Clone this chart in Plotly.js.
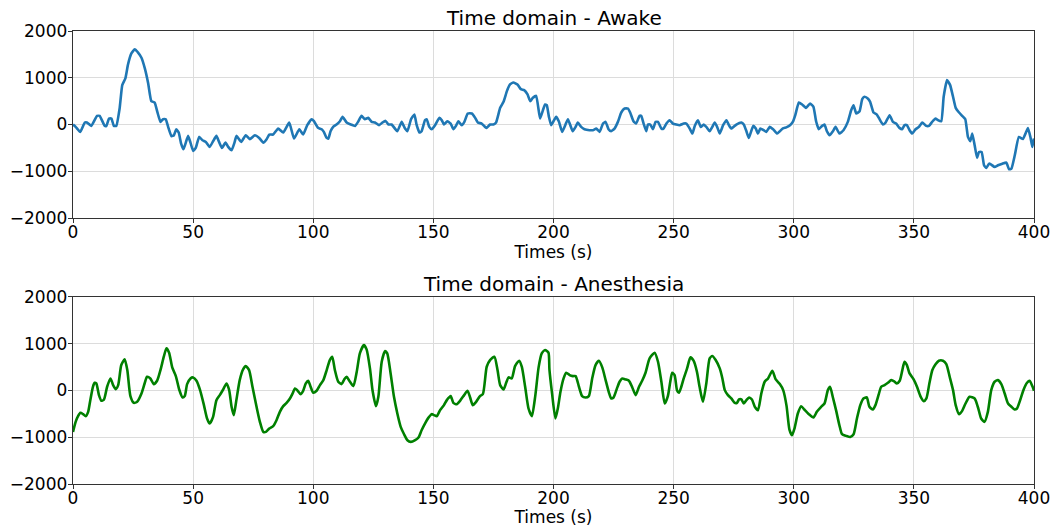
<!DOCTYPE html>
<html>
<head>
<meta charset="utf-8">
<script src="https://cdn.plot.ly/plotly-3.0.1.min.js"></script>
<style>
  html, body { margin: 0; padding: 0; background: #fff; }
  #chart { width: 1052px; height: 527px; }
</style>
</head>
<body>
<div id="chart"></div>
<script>
// ---- Data ----
const awakeTimes = [0,1.1,3,4.9,5.8,7.6,10,11.1,13.2,13.9,15,16,17,18,19.4,20.5,21.8,22.9,24.3,25.7,27,28.5,29.9,31.3,32.6,34,35.1,36.4,37.5,38.6,39.6,41,42,43,44,45,46,47.9,48.9,50,51.1,52.5,53.9,55.3,56.9,58.3,59.7,60.8,62,63.5,64.6,66,67.3,68,70,71.9,73.6,75.7,77.5,79.2,80.6,81.7,83.3,85.4,87.5,90,92,94.2,95.8,97.5,99.3,100.3,102,103.5,104.4,105.6,106.3,107.2,108.3,109.7,111.1,112.2,113.9,115.6,117.4,118.8,120.1,121.5,122.9,124.3,125.7,127.4,128.8,130.1,131.3,132.6,134,135,136.8,138.2,139.2,140.7,142.1,143,144.2,145.1,146.5,147.2,148.3,149.3,150.7,152.5,153.5,154.4,155.8,157.2,158.3,159.4,160.4,161.8,162.9,164.3,166,167.4,168.5,170.1,171.5,172.2,173.6,175,176.1,177.8,179.2,180.6,181.9,183.3,185,186.4,187.8,189.2,190.3,191.4,192.8,194.4,195.6,196.5,197.2,198.1,199,200,201.1,202.2,203.6,205,206,206.9,208,209.2,210.1,211.5,212.9,215,216.4,217.8,219.2,220.6,221.7,222.9,224,225.4,226.8,228.2,229.6,231,231.9,233.3,234.4,235.8,236.5,237.5,238.6,239.3,240.3,241.4,242.5,243.5,244.9,245.8,247,248.3,249.7,251.1,252.5,254.2,255.3,256.7,257.8,258.8,260.1,261.3,262.5,263.6,265,266.1,267.1,268.1,269.2,270.6,272,272.9,274,276.1,278.2,279.2,280.3,281.3,283.1,284.2,285.1,286.1,287.5,288.6,290,291.4,293.1,294.2,295.5,296.9,298.3,299.6,300.7,302.1,303.5,305.1,306.8,308.2,309.3,310.4,311.8,312.8,313.8,314.9,316.3,317.4,319,320.7,322.5,323.9,324.9,326,327.4,328.5,329.4,330.8,331.8,333.2,334.6,335.7,337.1,338.2,339.9,341.3,342.6,344,345.1,346.1,347.1,348.2,349.3,350.7,352.1,353.5,355.1,356.3,357.6,359,360,361.4,362.4,363.8,365.1,366.3,367.4,368.8,370.1,371.4,372.5,373.5,374.3,375.3,376.3,377.1,378.2,379.2,380.1,381.3,382.2,383.6,385,386.8,388.5,389.6,390.6,392,393.7,395.4,396.4,397.5,398.6,399.3,400];
const awakeValues = [0,-50,-157,43,43,-29,186,186,-29,-29,128,128,-29,-29,343,843,986,1286,1521,1607,1543,1428,1200,878,500,471,271,57,114,114,-50,-250,-228,-100,-171,-407,-528,-243,-386,-564,-500,-264,-336,-371,-478,-357,-243,-371,-500,-386,-478,-550,-371,-243,-371,-228,-314,-228,-286,-386,-314,-214,-214,-86,-171,43,-300,-100,-214,-14,114,71,-71,-100,-157,-286,-300,-143,-50,0,71,164,43,0,-29,71,186,114,143,57,43,-14,43,78,0,0,-86,-143,57,-86,-143,114,214,0,-171,-143,93,114,-50,-100,-14,143,93,0,71,21,-100,-29,71,-14,57,236,236,143,43,21,-50,-71,0,0,43,357,486,714,857,900,857,757,736,643,500,571,614,129,307,429,414,164,-14,71,164,71,-157,0,114,0,-143,-50,43,-50,-100,-121,-121,-86,-157,21,57,-100,-143,-86,57,257,343,343,257,71,21,186,186,21,-143,0,0,-100,57,57,-86,-86,21,93,21,0,-14,21,21,-86,-193,-29,93,-50,0,-50,-143,-50,43,-50,-193,-14,93,0,-86,0,43,0,-143,-286,-29,-86,-193,-86,-121,-157,-50,-100,-193,-143,-80,-60,-20,57,214,471,429,357,450,379,71,-100,-29,0,-143,-228,-143,-50,-193,-121,57,307,414,236,286,543,593,557,486,257,214,114,0,43,200,57,21,-71,-100,-14,-14,-121,-193,-100,-50,43,-29,-29,57,129,93,71,593,950,843,593,357,257,186,114,-264,-357,-193,-443,-714,-586,-586,-871,-928,-836,-857,-907,-871,-836,-814,-957,-943,-657,-265,-310,-200,-73,-290,-480,-300];

const anesTimes = [0,1.1,2.1,3.1,4.2,5.3,6.3,7.2,8.3,9,9.7,10.8,11.8,12.9,14.2,15.6,16.7,17.8,18.8,20.1,21.5,22.6,23.9,25.3,26.7,28.5,29.9,30.8,32.2,33.6,35,36.4,37.8,38.9,40,41.3,42.8,44.2,45.6,46.5,47.5,48.9,50,51.4,52.8,54.4,55.8,56.9,58.3,59.7,61.1,62.5,63.9,65,66,66.9,68,69.4,70.8,71.9,73.3,74.7,76.4,77.8,79.2,80.3,81.7,83.3,84.7,86.1,87.5,88.9,90.3,91.4,92.4,93.3,94.7,95.8,96.9,97.9,98.9,100,101.4,102.8,104.2,105.6,106.9,107.9,109,110.4,111.8,112.9,113.9,115,116.7,118.1,119.4,121.1,122.2,123.6,124.7,126.1,127.1,128.5,129.9,130.8,132.2,133.6,135,136.4,137.8,139.2,140.6,142.4,143.8,145.1,146.5,147.9,149.3,150.3,151.4,152.8,154.4,155.6,157.2,158.3,159.7,161.1,162.8,164.2,165.3,166.4,167.8,169.4,170.6,172.2,173.6,175.4,176.7,177.8,179.2,180.3,181.3,182.6,184,185.7,186.8,188.2,189.6,191,192.4,193.8,195.1,196.5,197.9,198.3,199.4,200.8,201.8,202.9,204.2,205.3,206.7,208.1,209.2,210.6,211.9,213.3,214.7,216.1,217.5,218.9,220.3,221.7,223.1,224,225,226.4,227.5,228.6,230,231.4,232.8,234.2,235.6,236.9,238.3,240,242.1,243.5,244.9,246.3,247.6,248.6,249.4,250.4,251.4,252.2,253.2,254.2,255.6,257,258.3,259.7,260.8,262.2,263.6,265,266.1,267.5,269.2,270.3,271.3,272.6,274,275.4,276.4,277.2,278.2,279.2,280.3,281.4,282.6,283.8,285.1,286.5,287.9,289.3,291.1,292.5,294.2,295.6,297,298.2,299.3,300.3,301.7,303.1,304.4,306.3,308.2,309.6,311.4,312.8,314.2,315.1,316.3,317.6,319,320.1,321.8,323.5,324.9,326.3,327.7,329,330.4,331.5,332.9,334,335.4,336.4,337.8,339.2,340.6,342,342.9,344.1,345.2,346.1,347.1,348.2,349.9,351.3,352.7,354.1,355.2,356.5,357.7,359.1,360.4,362.1,363.5,364.9,366.3,367.4,368.8,370.1,371.5,373.2,375.3,376.7,378,379.4,380.8,382.2,383.6,385,386.4,387.8,389.2,390.6,391.9,392.9,394,395.7,397.1,398.2,399.3,400];
const anesValues = [-886,-671,-550,-478,-507,-550,-457,-207,79,164,150,-100,-221,-193,79,257,114,29,114,543,664,436,-121,-264,-243,-64,164,293,257,136,207,436,721,900,807,493,307,21,-150,-121,136,257,279,207,21,-293,-600,-707,-564,-207,-100,21,150,7,-350,-528,-207,221,450,521,436,79,-350,-671,-886,-886,-814,-764,-636,-457,-336,-264,-171,-64,43,7,-79,-7,150,207,79,-50,-7,114,221,436,650,721,436,186,136,236,293,207,93,400,793,971,878,471,-7,-336,-136,614,843,793,364,-136,-493,-778,-936,-1064,-1100,-1064,-1007,-850,-707,-586,-507,-528,-550,-421,-314,-207,-121,-264,-293,-221,-100,-7,-150,-314,-243,-121,-79,507,650,721,436,114,21,164,279,257,521,636,507,79,-386,-550,-121,493,793,864,807,450,-64,-600,-386,-29,257,379,329,307,307,79,-121,-150,-121,257,543,636,493,221,-50,-171,-150,43,186,257,236,207,64,-100,79,207,379,686,807,614,186,-279,-121,186,379,329,7,-50,79,257,471,707,636,400,79,-243,150,686,736,650,471,257,7,-100,-171,-264,-264,-193,-193,-279,-207,-150,-193,-350,-421,-64,186,257,421,236,136,7,-330,-836,-957,-814,-493,-336,-407,-507,-578,-457,-350,-279,7,79,-150,-421,-743,-936,-971,-993,-936,-600,-314,-171,-150,-350,-407,-314,-79,79,114,164,221,186,150,207,436,614,543,364,236,79,-121,-229,-171,164,436,564,636,636,564,293,7,-314,-507,-436,-279,-136,-171,-364,-600,-671,-457,7,186,221,136,-64,-279,-350,-407,-386,-243,21,164,207,93,-7];

const titles = ["Time domain - Awake", "Time domain - Anesthesia"];
const xTitle = "Times (s)";
const xTicks = [0, 50, 100, 150, 200, 250, 300, 350, 400];
const yTicks = [-2000, -1000, 0, 1000, 2000];

const FONT = "DejaVu Sans, sans-serif";

const traces = [
  { x: awakeTimes, y: awakeValues, type: "scatter", mode: "lines",
    line: { color: "#1f77b4", width: 2.6, shape: "spline", smoothing: 0.4 },
    xaxis: "x", yaxis: "y", hoverinfo: "skip" },
  { x: anesTimes, y: anesValues, type: "scatter", mode: "lines",
    line: { color: "#008000", width: 2.6, shape: "spline", smoothing: 0.6 },
    xaxis: "x2", yaxis: "y2", hoverinfo: "skip" }
];

function xAxis(anchor) {
  return {
    anchor: anchor, range: [0, 400], tickvals: xTicks, ticktext: xTicks.map(String),
    showgrid: true, gridcolor: "#dcdcdc", gridwidth: 1, zeroline: false,
    showline: true, linecolor: "#333", linewidth: 1.3, mirror: true,
    ticks: "outside", ticklen: 4, tickcolor: "#333", tickwidth: 1,
    ticklabelstandoff: -6,
    tickfont: { family: FONT, size: 17, color: "#000" },
    automargin: false,
    title: { text: xTitle, font: { family: FONT, size: 17, color: "#000" }, standoff: 0 }
  };
}
function yAxis(anchor, domain) {
  return {
    anchor: anchor, domain: domain, range: [-2000, 2000], tickvals: yTicks,
    showgrid: true, gridcolor: "#dcdcdc", gridwidth: 1, zeroline: false,
    showline: true, linecolor: "#333", linewidth: 1.3, mirror: true,
    ticks: "outside", ticklen: 4, tickcolor: "#333", tickwidth: 1,
    ticklabelstandoff: -3,
    automargin: false,
    tickfont: { family: FONT, size: 17, color: "#000" }
  };
}

const topDomain = [0.587, 1];
const botDomain = [0, 0.413];

const layout = {
  width: 1052, height: 527,
  margin: { l: 73, r: 18, t: 31, b: 43 },
  paper_bgcolor: "#fff", plot_bgcolor: "#fff",
  showlegend: false,
  font: { family: FONT, color: "#000" },
  xaxis: xAxis("y"),
  yaxis: yAxis("x", topDomain),
  xaxis2: xAxis("y2"),
  yaxis2: yAxis("x2", botDomain),
  annotations: [
    { text: titles[0], xref: "paper", yref: "paper", x: 0.5, y: topDomain[1],
      xanchor: "center", yanchor: "bottom", showarrow: false, yshift: -1,
      font: { family: FONT, size: 20, color: "#000" } },
    { text: titles[1], xref: "paper", yref: "paper", x: 0.5, y: botDomain[1],
      xanchor: "center", yanchor: "bottom", showarrow: false, yshift: -1,
      font: { family: FONT, size: 20, color: "#000" } }
  ]
};

Plotly.newPlot("chart", traces, layout, { staticPlot: true, displayModeBar: false });
</script>
</body>
</html>
